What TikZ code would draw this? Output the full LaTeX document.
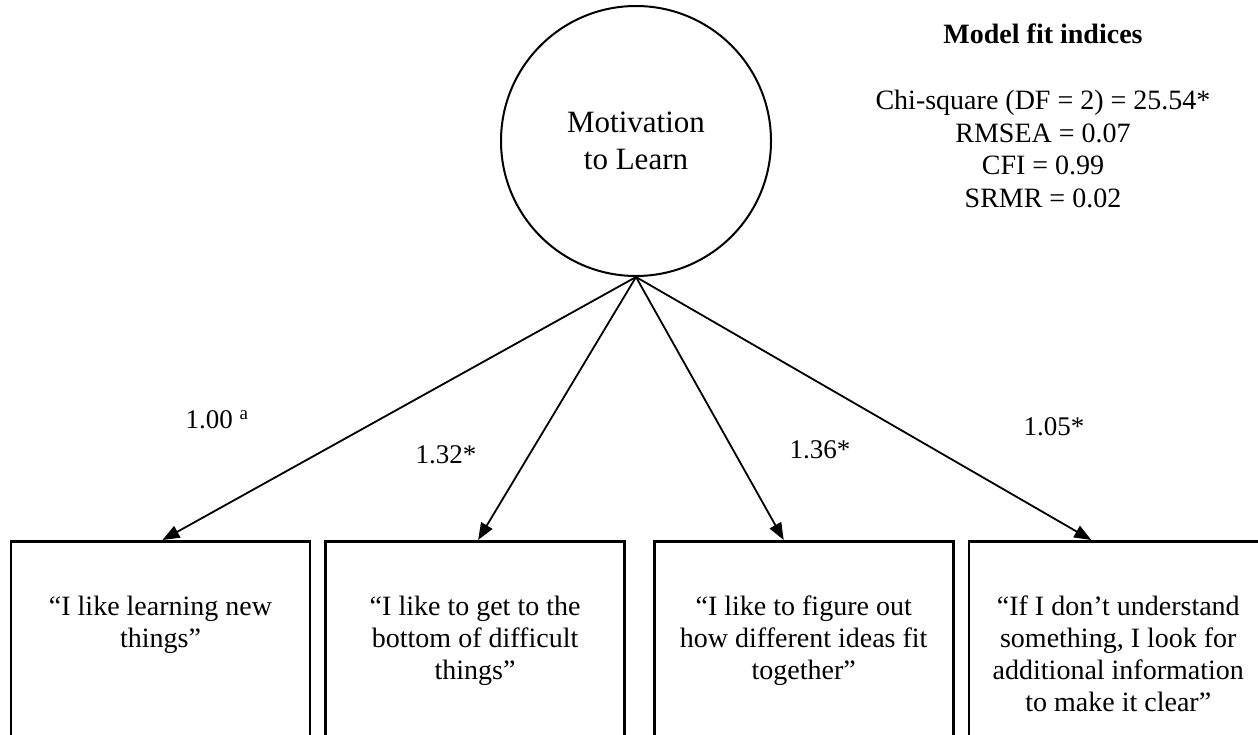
\documentclass[tikz,border=0pt]{standalone}
\usepackage{fontspec}
\setmainfont{Liberation Serif}
\usetikzlibrary{arrows.meta,positioning}
\tikzset{
	latent/.style={circle, draw, line width=2pt, minimum size=270pt, align=center, font=\fontsize{31}{37}\selectfont},
	item/.style={draw, line width=2.6pt, minimum width=299pt, minimum height=260pt, inner sep=0pt},
	itemtext/.style={align=center, inner sep=0pt, font=\fontsize{28}{31.7}\selectfont},
	loading/.style={font=\fontsize{27}{30}\selectfont},
	loadarrow/.style={line width=1.8pt, -{Triangle[length=17pt,width=13pt]}},
}

\begin{document}
\begin{tikzpicture}[x=1pt, y=-1pt]
	%%%%% START %%%%%
	\useasboundingbox (0,0) rectangle (1258,734);
	\clip (0,0) rectangle (1258,734);

	\node[latent] (mot) at (636,141) {Motivation\\to Learn};

	% items, cut off at the bottom of the page
	\node[item, anchor=north] (b1) at (160.5,540) {};
	\node[item, right=13pt of b1] (b2) {};
	\node[item, right=27pt of b2] (b3) {};
	\node[item, right=13pt of b3] (b4) {};

	\node[itemtext, below=56pt of b1.north] (t1) {“I like learning new\\things”};
	\node[itemtext, below=56pt of b2.north] (t2) {“I like to get to the\\bottom of difficult\\things”};
	\node[itemtext, below=56pt of b3.north] (t3) {“I like to figure out\\how different ideas fit\\together”};
	\node[itemtext, below=56pt of b4.north] (t4) {“If I don’t understand\\something, I look for\\additional information\\to make it clear”};

	\draw[loadarrow] (mot.south) -- ([xshift=2pt]b1.north);
	\draw[loadarrow] (mot.south) -- ([xshift=3pt]b2.north);
	\draw[loadarrow] (mot.south) -- ([xshift=-20pt]b3.north);
	\draw[loadarrow] (mot.south) -- ([xshift=-27pt]b4.north);

	\node[loading] (l1) at (217,420) {1.00 \textsuperscript{a}};
	\node[loading] (l2) at (446,455) {1.32*};
	\node[loading] (l3) at (820,450) {1.36*};
	\node[loading] (l4) at (1054,427) {1.05*};

	% fit indices
	\node[font=\bfseries\fontsize{28}{32}\selectfont] (fit) at (1043,34) {Model fit indices};
	\node[itemtext, font=\fontsize{28}{32.7}\selectfont] (idx) at (1043,149) {Chi-square (DF = 2) = 25.54*\\RMSEA = 0.07\\CFI = 0.99\\SRMR = 0.02};
	%%%%% END %%%%%
\end{tikzpicture}
\end{document}
